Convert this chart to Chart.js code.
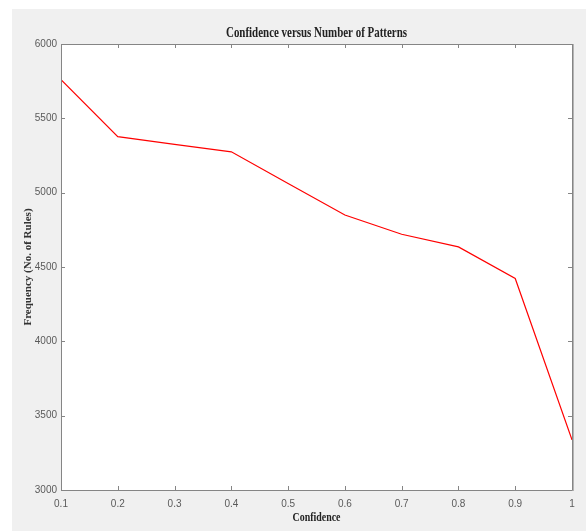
<!DOCTYPE html>
<html>
<head>
<meta charset="utf-8">
<script src="https://cdn.jsdelivr.net/npm/chart.js@4"></script>
<style>
  html, body { margin: 0; padding: 0; background: #ffffff; }
  #wrap { width: 586px; height: 532px; position: relative; }
</style>
</head>
<body>
<div id="wrap"><canvas id="myChart" width="586" height="532"></canvas></div>
<script>
// confidence levels on x
var confidence = [0.1, 0.2, 0.3, 0.4, 0.5, 0.6, 0.7, 0.8, 0.9, 1];
// number of rules found
var rules = [5760, 5377, 5325, 5275, 5062, 4850, 4720, 4635, 4423, 3337];
var xTicks = [0.1, 0.2, 0.3, 0.4, 0.5, 0.6, 0.7, 0.8, 0.9, 1];
var yTicks = [3000, 3500, 4000, 4500, 5000, 5500, 6000];

var chartTitle = 'Confidence versus Number of Patterns';
var xTitle = 'Confidence';
var yTitle = 'Frequency (No. of Rules)';

var serif = "'Liberation Serif', 'DejaVu Serif', serif";

// draw text squeezed to a given width (the original uses a condensed face)
function squeezeText(c, text, cx, cy, font, width) {
  c.save();
  c.font = font;
  c.textAlign = 'center';
  c.textBaseline = 'middle';
  var w = c.measureText(text).width;
  var k = Math.min(1, width / w);
  c.translate(cx, cy);
  c.scale(k, 1);
  c.fillText(text, 0, 0);
  c.restore();
}

// matlab style figure: gray panel, box with inward ticks, titles
var matlabFrame = {
  id: 'matlabFrame',
  beforeDraw: function (chart) {
    var c = chart.ctx;
    c.save();
    c.fillStyle = '#f0f0f0';
    c.fillRect(12, 9, 574, 522);
    var a = chart.chartArea;
    c.fillStyle = '#ffffff';
    c.fillRect(a.left, a.top, a.right - a.left, a.bottom - a.top);
    c.restore();
  },
  afterDraw: function (chart) {
    var c = chart.ctx;
    var a = chart.chartArea;
    var xs = chart.scales.x, ys = chart.scales.y;
    c.save();
    c.strokeStyle = '#858585';
    c.lineWidth = 1;
    c.beginPath();
    c.moveTo(a.left + 0.5, a.top + 0.5);
    c.lineTo(a.right + 0.5, a.top + 0.5);
    c.lineTo(a.right + 0.5, a.bottom + 0.5);
    c.lineTo(a.left + 0.5, a.bottom + 0.5);
    c.closePath();
    c.stroke();
    // lighter edge on the right side like the original
    c.strokeStyle = '#b4b4b4';
    c.beginPath();
    c.moveTo(a.right + 1.5, a.top);
    c.lineTo(a.right + 1.5, a.bottom + 1);
    c.stroke();
    // ticks pointing inward
    var len = 4;
    c.strokeStyle = '#858585';
    c.beginPath();
    xTicks.forEach(function (v) {
      var px = Math.round(xs.getPixelForValue(v)) + 0.5;
      c.moveTo(px, a.bottom); c.lineTo(px, a.bottom - len);
      c.moveTo(px, a.top); c.lineTo(px, a.top + len);
    });
    yTicks.forEach(function (v) {
      var py = Math.round(ys.getPixelForValue(v)) + 0.5;
      c.moveTo(a.left, py); c.lineTo(a.left + len, py);
      c.moveTo(a.right, py); c.lineTo(a.right - len, py);
    });
    c.stroke();
    c.fillStyle = '#222222';
    var mid = (a.left + a.right) / 2;
    squeezeText(c, chartTitle, mid, 33, "bold 14px " + serif, 181);
    squeezeText(c, xTitle, mid, 518, "bold 13px " + serif, 48);
    c.restore();
  }
};

var ctx = document.getElementById('myChart');
var myChart = new Chart(ctx, {
  type: 'line',
  data: {
    datasets: [{
      data: confidence.map(function (x, i) { return { x: x, y: rules[i] }; }),
      borderColor: '#ff0000',
      borderWidth: 1.2,
      pointRadius: 0,
      tension: 0,
      fill: false
    }]
  },
  options: {
    responsive: false,
    animation: false,
    layout: { padding: { top: 44, right: 14, left: 0, bottom: 0 } },
    plugins: {
      legend: { display: false },
      tooltip: { enabled: false }
    },
    scales: {
      x: {
        type: 'linear',
        min: 0.1,
        max: 1,
        afterFit: function (s) { s.height = 42; },
        afterBuildTicks: function (s) { s.ticks = xTicks.map(function (v) { return { value: v }; }); },
        grid: { display: false, drawTicks: false },
        border: { display: false },
        ticks: {
          padding: 8,
          color: '#5a5a5a',
          font: { family: "'Liberation Sans', Arial, sans-serif", size: 10 },
          maxRotation: 0,
          callback: function (v) { return String(v); }
        }
      },
      y: {
        type: 'linear',
        min: 3000,
        max: 6000,
        afterFit: function (s) { s.width = 61; },
        afterBuildTicks: function (s) { s.ticks = yTicks.map(function (v) { return { value: v }; }); },
        grid: { display: false, drawTicks: false },
        border: { display: false },
        ticks: {
          padding: 4,
          color: '#5a5a5a',
          font: { family: "'Liberation Sans', Arial, sans-serif", size: 10 },
          callback: function (v) { return String(v); }
        },
        title: {
          display: true,
          text: yTitle,
          color: '#333333',
          font: { family: serif, size: 11, weight: 'bold' },
          padding: { top: 22, bottom: 0 }
        }
      }
    }
  },
  plugins: [matlabFrame]
});
</script>
</body>
</html>
